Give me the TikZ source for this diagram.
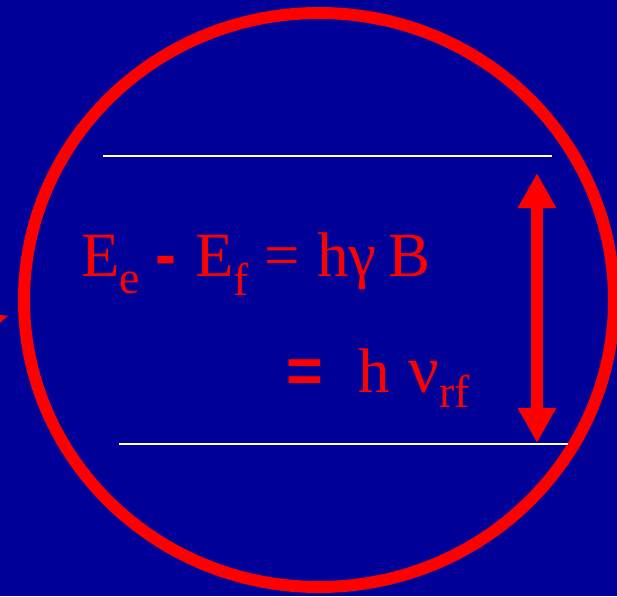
\documentclass[tikz,border=0pt]{standalone}
\usepackage{fontspec}
\setmainfont{Liberation Serif}
\newfontfamily\sansbold{Liberation Sans}[UprightFont=* Bold]
\usetikzlibrary{arrows.meta}
\definecolor{bgblue}{RGB}{0,0,153}
\definecolor{hotred}{RGB}{255,0,0}
\newcommand\sbx[2]{\raisebox{-#1}{\fontsize{46}{46}\selectfont #2}}
\tikzset{
  eqtext/.style={anchor=base west, inner sep=0pt, text=hotred, font=\fontsize{63}{63}\selectfont},
  level/.style={draw=white, line width=2pt},
  ring/.style={draw=hotred, line width=12pt},
  dblarrow/.style={draw=hotred, line width=12pt,
    {Triangle[width=36pt,length=35pt]}-{Triangle[width=36pt,length=35pt]}}
}
\begin{document}
\begin{tikzpicture}[x=1pt,y=-1pt]
  \useasboundingbox (0,0) rectangle (617,596);
  \fill[bgblue] (0,0) rectangle (617,596);
  % partial arrowhead at left edge
  \fill[hotred] (-5,314) -- (8,316) -- (-5,327) -- cycle;
  % ring
  \draw[ring] (319,300) ellipse [x radius=295pt, y radius=287pt];
  % energy levels
  \coordinate (l1a) at (103,156);
  \coordinate (l1b) at (552,156);
  \coordinate (l2a) at (119,444);
  \coordinate (l2b) at (568,444);
  \draw[level] (l1a) -- (l1b);
  \draw[level] (l2a) -- (l2b);
  % double arrow
  \coordinate (atop) at (537,173);
  \coordinate (abot) at (537,443);
  \draw[dblarrow] (atop) -- (abot);
  % equations
  \node[eqtext] (eq1) at (81,276) {E\sbx{17pt}{e}\hspace{15pt}{\sansbold -}\hspace{19pt}E\sbx{19pt}{f}\hspace{16pt}=\hspace{17pt}hγ\hspace{12pt}B};
  \node[eqtext] (eq2) at (286,392) {{\sansbold =}\hspace{36pt}h\hspace{18pt}{\fontsize{68}{68}\selectfont ν}\sbx{15pt}{rf}};
\end{tikzpicture}
\end{document}
